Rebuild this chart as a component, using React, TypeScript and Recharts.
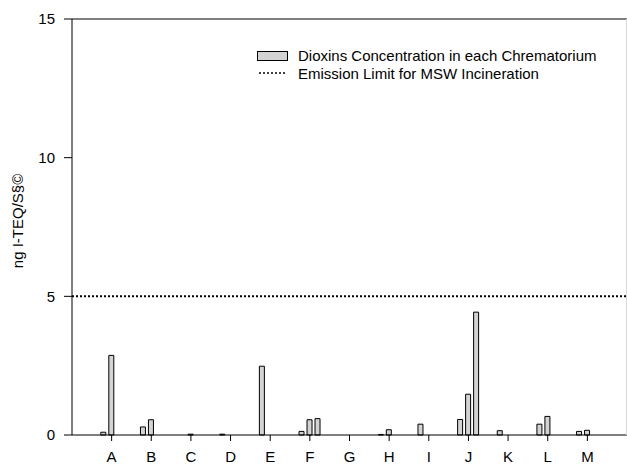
import React from 'react';
import { BarChart, Bar, XAxis, YAxis, ReferenceLine, Label } from 'recharts';

const crematoria = ['A', 'B', 'C', 'D', 'E', 'F', 'G', 'H', 'I', 'J', 'K', 'L', 'M'];
const firstSample = [0.1, 0.29, 0, 0.03, 2.48, 0.13, 0, 0.02, 0.39, 0.56, 0.155, 0.39, 0.13];
const secondSample = [2.87, 0.55, 0.03, 0, 0, 0.55, 0, 0.19, 0, 1.47, 0, 0.67, 0.17];
const thirdSample = [0, 0, 0, 0, 0, 0.59, 0, 0, 0, 4.43, 0, 0, 0];
const yTicks = [0, 5, 10, 15];
const emissionLimit = 5;

const data = crematoria.map((name, i) => ({
  name,
  s1: firstSample[i],
  s2: secondSample[i],
  s3: thirdSample[i],
}));

const FONT = '"Liberation Sans", Arial, sans-serif';
const FONT_SIZE = 15;
const BAR_FILL = '#d3d3d3';

// legend sits in the upper right of the plot, drawn over the chart
function ChartLegend() {
  return (
    <div
      style={{
        position: 'absolute',
        left: 257,
        top: 47,
        fontFamily: FONT,
        fontSize: FONT_SIZE,
        color: '#000',
        lineHeight: '17.5px',
        whiteSpace: 'nowrap',
      }}
    >
      <div style={{ display: 'flex', alignItems: 'center' }}>
        <span style={{ width: 29, height: 8, border: '1px solid #000', background: BAR_FILL, marginRight: 10 }} />
        <span>Dioxins Concentration in each Chrematorium</span>
      </div>
      <div style={{ display: 'flex', alignItems: 'center' }}>
        <svg width={31} height={4} style={{ marginRight: 10 }}>
          <line x1={2} y1={2} x2={28} y2={2} stroke="#000" strokeWidth={1.5} strokeDasharray="2 2" />
        </svg>
        <span>Emission Limit for MSW Incineration</span>
      </div>
    </div>
  );
}

export default function App() {
  return (
    <div style={{ position: 'absolute', left: 0, top: 0, width: 627, height: 465, background: '#fff' }}>
      <BarChart
        width={627}
        height={465}
        data={data}
        margin={{ top: 19, right: 0, bottom: 0, left: 0 }}
        barSize={5}
        barGap={3}
      >
        <XAxis
          dataKey="name"
          height={30}
          padding={{ left: 19.8, right: 19.8 }}
          tickSize={6}
          tickMargin={10}
          tick={{ fill: '#000', fontSize: FONT_SIZE, fontFamily: FONT }}
          axisLine={{ stroke: '#000' }}
          tickLine={{ stroke: '#000' }}
        />
        <YAxis
          width={72}
          domain={[0, 15]}
          ticks={yTicks}
          tickSize={8}
          tickMargin={9}
          tick={{ fill: '#000', fontSize: FONT_SIZE, fontFamily: FONT }}
          axisLine={{ stroke: '#000' }}
          tickLine={{ stroke: '#000' }}
        >
          <Label
            content={() => (
              <text
                x={23}
                y={221}
                transform="rotate(-90 23 221)"
                textAnchor="middle"
                fill="#000"
                fontSize={FONT_SIZE}
                fontFamily={FONT}
              >
                ng I-TEQ/S§©
              </text>
            )}
          />
        </YAxis>
        <ReferenceLine y={15} stroke="#000" strokeWidth={1} />
        <ReferenceLine y={emissionLimit} stroke="#000" strokeWidth={2} strokeDasharray="2 2" />
        <Bar dataKey="s1" fill={BAR_FILL} stroke="#000" strokeWidth={1} isAnimationActive={false} />
        <Bar dataKey="s2" fill={BAR_FILL} stroke="#000" strokeWidth={1} isAnimationActive={false} />
        <Bar dataKey="s3" fill={BAR_FILL} stroke="#000" strokeWidth={1} isAnimationActive={false} />
      </BarChart>
      <ChartLegend />
      <div style={{ position: 'absolute', left: 626, top: 19, width: 1, height: 416, background: '#d8d8d8' }} />
    </div>
  );
}
